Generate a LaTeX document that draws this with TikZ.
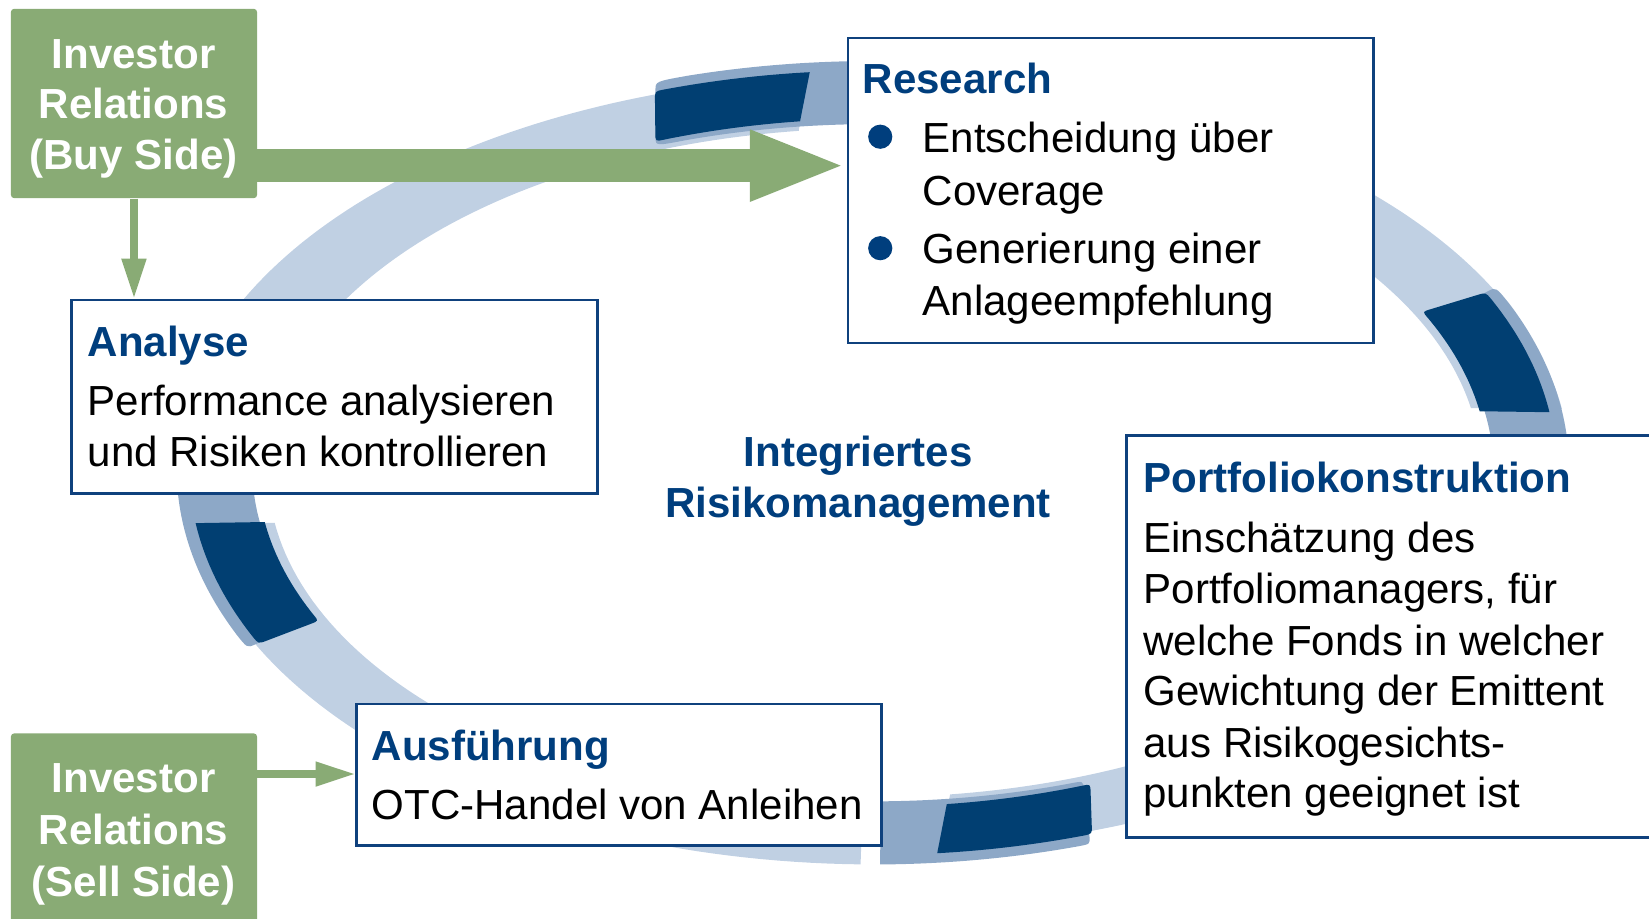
\documentclass[tikz,border=0pt]{standalone}
\usepackage{fontspec}
\setmainfont{Liberation Sans}
\usetikzlibrary{arrows.meta,calc}
\definecolor{ringlight}{RGB}{192,208,227}
\definecolor{ringmid}{RGB}{141,168,199}
\definecolor{ringdark}{RGB}{1,63,114}
\definecolor{irgreen}{RGB}{137,171,117}
\definecolor{headblue}{RGB}{0,62,125}
\definecolor{boxblue}{RGB}{15,65,125}
% filled piece of an elliptic band: style, outer a, outer b, inner a, inner b,
% outer start angle, outer end angle, inner end angle, inner start angle
\newcommand\ringband[9]{%
  \fill[#1] plot[domain=#6:#7, samples=60, variable=\t] ({\RCX+#2*cos(\t)},{\RCY-#3*sin(\t)})
    -- plot[domain=#8:#9, samples=60, variable=\t] ({\RCX+#4*cos(\t)},{\RCY-#5*sin(\t)}) -- cycle;}
% same, with rounded corners at the start (upstream) end
\newcommand\ringblock[9]{%
  \pgfmathsetmacro\rbOs{#6+(#7-#6)*0.06}%
  \pgfmathsetmacro\rbIe{#9+(#8-#9)*0.06}%
  \coordinate (rbOC) at ({\RCX+#2*cos(#6)},{\RCY-#3*sin(#6)});
  \coordinate (rbIC) at ({\RCX+#4*cos(#9)},{\RCY-#5*sin(#9)});
  \fill[#1] ($(rbOC)!4pt!(rbIC)$) .. controls (rbOC) .. ({\RCX+#2*cos(\rbOs)},{\RCY-#3*sin(\rbOs)})
    -- plot[domain=\rbOs:#7, samples=60, variable=\t] ({\RCX+#2*cos(\t)},{\RCY-#3*sin(\t)})
    -- plot[domain=#8:\rbIe, samples=60, variable=\t] ({\RCX+#4*cos(\t)},{\RCY-#5*sin(\t)})
    .. controls (rbIC) .. ($(rbIC)!4pt!(rbOC)$) -- cycle;}
\begin{document}
\begin{tikzpicture}[x=0.5pt,y=-0.5pt,
  bodytext/.style={anchor=base west, inner sep=0pt, font=\fontsize{20}{24}\selectfont, text=black},
  headtext/.style={anchor=base west, inner sep=0pt, font=\fontsize{20}{24}\selectfont\bfseries, text=headblue},
  greentext/.style={anchor=base, inner sep=0pt, font=\fontsize{20}{24}\selectfont\bfseries, text=white},
  centertext/.style={anchor=base, inner sep=0pt, font=\fontsize{20}{24}\selectfont\bfseries, text=headblue},
  infobox/.style={draw=boxblue, line width=1.2pt, fill=white, anchor=north west, inner sep=0pt},
  greenbox/.style={fill=irgreen, rounded corners=1.5pt, anchor=north west, inner sep=0pt},
  bulletdot/.style={circle, fill=headblue, inner sep=0pt, minimum size=11.5pt},
  bigarrow/.style={draw=irgreen, line width=15.5pt, -{Triangle[length=46pt,width=30.5pt]}},
  thinarrow/.style={draw=irgreen, line width=3.5pt, -{Triangle[length=19pt,width=11pt]}}]
\useasboundingbox (0,0) rectangle (1568,873);
% ---- ring: light parts
\def\RCX{830}\def\RCY{446}
\ringband{ringlight}{663}{375}{578}{324}{165}{95.5}{97}{165}
\ringband{ringlight}{663}{375}{578}{324}{55}{8.74}{10.3}{55}
\def\RCX{830}\def\RCY{434}
\ringband{ringlight}{663}{375}{578}{324}{-40}{-84.5}{-82.7}{-40}
\def\RCX{832}\def\RCY{450}
\ringband{ringlight}{655}{372}{577}{323}{268.8}{187.3}{188.4}{268.8}
% ---- ring: medium parts
\def\RCX{830}\def\RCY{446}
\ringblock{ringmid}{662}{388}{590}{328}{108.2}{60}{60}{110.5}
\ringblock{ringmid}{662}{388}{590}{328}{26.5}{-20}{-20}{25.5}
\ringblock{ringmid}{662}{388}{590}{328}{206}{172}{172}{205.7}
\def\RCY{434}
\ringblock{ringmid}{662}{388}{590}{328}{-71.8}{-89.4}{-89.3}{-70.2}
% ---- ring: dark blocks
\ringblock{ringdark}{650}{379}{585}{333}{-71.3}{-84.6}{-83.1}{-69.3}
\def\RCY{446}
\ringblock{ringdark}{650}{379}{585}{333}{108.6}{95.3}{96.8}{110.7}
\ringblock{ringdark}{650}{379}{585}{333}{26.3}{8.2}{9.5}{26.7}
\ringblock{ringdark}{650}{379}{585}{333}{206}{187.8}{188.7}{205.7}
% ---- boxes
\node[infobox, minimum width=250pt, minimum height=92pt] (analyse) at (67,284) {};
\node[infobox, minimum width=250pt, minimum height=145pt] (research) at (805,35) {};
\node[infobox, minimum width=256pt, minimum height=191pt] (portfolio) at (1070,413) {};
\node[infobox, minimum width=249.5pt, minimum height=67.5pt] (ausf) at (338,668) {};
\node[greenbox, minimum width=117pt, minimum height=90pt] (buy) at (10,8) {};
\node[greenbox, minimum width=117pt, minimum height=93pt] (sell) at (10,697) {};
% ---- arrows
\coordinate (ry) at (0,157.5);
\coordinate (sy) at (0,736);
\draw[bigarrow] (buy.east |- ry) -- (research.west |- ry);
\draw[thinarrow] (buy.south) -- (analyse.north -| buy.south);
\draw[thinarrow] (sell.east |- sy) -- (ausf.west |- sy);
% ---- texts
\node[greentext] (buy1) at (127,65) {Investor};
\node[greentext] (buy2) at (127,113) {Relations};
\node[greentext] (buy3) at (127,161) {(Buy Side)};
\node[greentext] (sell1) at (127,754) {Investor};
\node[greentext] (sell2) at (127,803) {Relations};
\node[greentext] (sell3) at (127,852) {(Sell Side)};
\node[headtext] (anaH) at (83,339) {Analyse};
\node[bodytext] (ana1) at (83,395) {Performance analysieren};
\node[bodytext] (ana2) at (83,444) {und Risiken kontrollieren};
\node[headtext] (resH) at (820,89) {Research};
\node[bulletdot] (dot1) at (837,130) {};
\node[bulletdot] (dot2) at (837,236) {};
\node[bodytext] (res1) at (877,145) {Entscheidung über};
\node[bodytext] (res2) at (877,195) {Coverage};
\node[bodytext] (res3) at (877,251) {Generierung einer};
\node[bodytext] (res4) at (877,300) {Anlageempfehlung};
\node[headtext] (porH) at (1087,468) {Portfoliokonstruktion};
\node[bodytext] (por1) at (1087,525) {Einschätzung des};
\node[bodytext] (por2) at (1087,574) {Portfoliomanagers, für};
\node[bodytext] (por3) at (1087,623) {welche Fonds in welcher};
\node[bodytext] (por4) at (1087,671) {Gewichtung der Emittent};
\node[bodytext] (por5) at (1087,720) {aus Risikogesichts-};
\node[bodytext] (por6) at (1087,768) {punkten geeignet ist};
\node[headtext] (ausH) at (353,723) {Ausführung};
\node[bodytext] (aus1) at (353,779) {OTC-Handel von Anleihen};
\node[centertext] (cen1) at (816,444) {Integriertes};
\node[centertext] (cen2) at (816,492) {Risikomanagement};
\end{tikzpicture}
\end{document}
